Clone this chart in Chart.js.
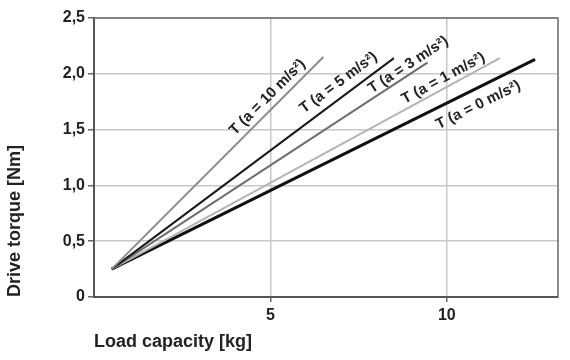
<!DOCTYPE html>
<html>
<head>
<meta charset="utf-8">
<title>Drive torque vs load capacity</title>
<script src="https://cdn.jsdelivr.net/npm/chart.js@4.4.1/dist/chart.umd.min.js"></script>
<style>
  html, body { margin: 0; padding: 0; background: #fff; }
  #wrap { width: 570px; height: 360px; }
</style>
</head>
<body>
<div id="wrap"><canvas id="chart" width="570" height="360"></canvas></div>
<script>
// curve labels, one per acceleration
const seriesNames = ['T (a = 10 m/s²)', 'T (a = 5 m/s²)', 'T (a = 3 m/s²)', 'T (a = 1 m/s²)', 'T (a = 0 m/s²)'];

// load capacity [kg] (start, end) for each line
const loadA10 = [0.5, 6.5];
const loadA5 = [0.5, 8.5];
const loadA3 = [0.5, 9.45];
const loadA1 = [0.5, 11.5];
const loadA0 = [0.5, 12.5];

// drive torque [Nm] (start, end) for each line
const torqueA10 = [0.25, 2.15];
const torqueA5 = [0.25, 2.14];
const torqueA3 = [0.25, 2.1];
const torqueA1 = [0.25, 2.14];
const torqueA0 = [0.25, 2.13];

// where the rotated curve labels sit (data units)
const labelX = [4.92, 6.93, 8.91, 9.9, 10.89];
const labelY = [1.79, 1.92, 2.08, 1.96, 1.72];

const xTicks = [5, 10];
const yTicks = [0, 0.5, 1, 1.5, 2, 2.5];

const loads = [loadA10, loadA5, loadA3, loadA1, loadA0];
const torques = [torqueA10, torqueA5, torqueA3, torqueA1, torqueA0];
const colors = ['#8c8c8c', '#1a1a1a', '#6e6e6e', '#b4b4b4', '#111111'];
const widths = [2, 2, 2, 2, 3];

const datasets = seriesNames.map((name, i) => ({
  label: name,
  data: loads[i].map((x, j) => ({ x: x, y: torques[i][j] })),
  borderColor: colors[i],
  borderWidth: widths[i],
  pointRadius: 0,
  fill: false,
  tension: 0,
}));

// frame around the plot area + text along each line
const framePlugin = {
  id: 'frame',
  afterDatasetsDraw(chart) {
    const { ctx, chartArea: a, scales } = chart;
    ctx.save();
    ctx.strokeStyle = '#6a6a6a';
    ctx.lineWidth = 1.5;
    ctx.beginPath();
    ctx.moveTo(a.left, a.top);
    ctx.lineTo(a.right, a.top);
    ctx.lineTo(a.right, a.bottom);
    ctx.stroke();

    ctx.fillStyle = '#222';
    ctx.font = 'bold 15px "Liberation Sans", Arial, sans-serif';
    ctx.textAlign = 'center';
    ctx.textBaseline = 'middle';
    chart.data.datasets.forEach((ds, i) => {
      const p0 = ds.data[0], p1 = ds.data[ds.data.length - 1];
      const x0 = scales.x.getPixelForValue(p0.x), y0 = scales.y.getPixelForValue(p0.y);
      const x1 = scales.x.getPixelForValue(p1.x), y1 = scales.y.getPixelForValue(p1.y);
      const ang = Math.atan2(y1 - y0, x1 - x0);
      ctx.save();
      ctx.translate(scales.x.getPixelForValue(labelX[i]), scales.y.getPixelForValue(labelY[i]));
      ctx.rotate(ang);
      ctx.fillText(ds.label, 0, 0);
      ctx.restore();
    });
    ctx.restore();
  }
};

const tickFont = { family: '"Liberation Sans", Arial, sans-serif', size: 16, weight: 'bold' };
const titleFont = { family: '"Liberation Sans", Arial, sans-serif', size: 18, weight: 'bold' };

new Chart(document.getElementById('chart'), {
  type: 'line',
  data: { datasets: datasets },
  plugins: [framePlugin],
  options: {
    responsive: false,
    animation: false,
    layout: { padding: { top: 18, right: 12, bottom: 3, left: 0 } },
    plugins: {
      legend: { display: false },
      tooltip: { enabled: false },
    },
    scales: {
      x: {
        type: 'linear',
        min: 0,
        max: 13.15,
        afterBuildTicks: (scale) => { scale.ticks = xTicks.map(v => ({ value: v })); },
        afterFit: (scale) => { scale.height = 60; },
        ticks: { color: '#222', font: tickFont, padding: 4, maxRotation: 0 },
        grid: { color: '#c8c8c8', lineWidth: 1.5, tickColor: '#666', tickLength: 5 },
        border: { color: '#555', width: 2 },
        title: {
          display: true,
          text: 'Load capacity [kg]',
          align: 'start',
          color: '#222',
          font: titleFont,
          padding: { top: 4, bottom: 4 },
        },
      },
      y: {
        type: 'linear',
        min: 0,
        max: 2.5,
        afterBuildTicks: (scale) => { scale.ticks = yTicks.map(v => ({ value: v })); },
        afterFit: (scale) => { scale.width = 94; },
        ticks: {
          color: '#222',
          font: tickFont,
          padding: 3,
          callback: (v) => v === 0 ? '0' : v.toFixed(1).replace('.', ','),
        },
        grid: { color: '#c8c8c8', lineWidth: 1.5, tickColor: '#666', tickLength: 6 },
        border: { color: '#555', width: 2 },
        title: {
          display: true,
          text: 'Drive torque [Nm]',
          align: 'start',
          color: '#222',
          font: titleFont,
          padding: { top: 4, bottom: 4 },
        },
      },
    },
  },
});
</script>
</body>
</html>
